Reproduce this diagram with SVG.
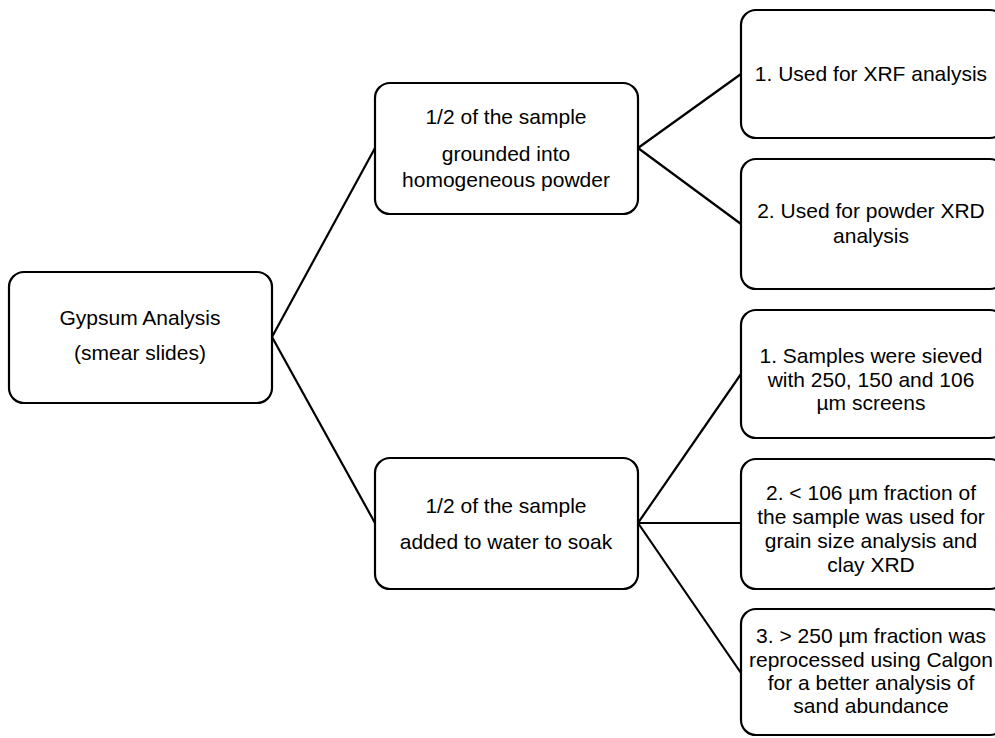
<svg xmlns="http://www.w3.org/2000/svg" width="995" height="738" viewBox="0 0 995 738">
<style>
.box{fill:#fff;stroke:#000;stroke-width:2.2}
.t{font-family:"Liberation Sans",Arial,sans-serif;font-size:21px;fill:#000;text-anchor:middle}
.c{stroke:#000;stroke-width:2.2;fill:none}
</style>
<rect width="995" height="738" fill="#fff"/>
<g id="connectors">
<line class="c" x1="272" y1="337" x2="375" y2="148"/>
<line class="c" x1="272" y1="337" x2="375" y2="523"/>
<line class="c" x1="638" y1="148" x2="741" y2="74"/>
<line class="c" x1="638" y1="148" x2="741" y2="224"/>
<line class="c" x1="638" y1="523" x2="741" y2="374"/>
<line class="c" x1="638" y1="523" x2="741" y2="523"/>
<line class="c" x1="638" y1="523" x2="741" y2="673"/>
</g>
<g id="gypsum">
<rect class="box" x="9" y="272" width="263" height="131" rx="15"/>
<text class="t" x="140" y="325">Gypsum Analysis</text>
<text class="t" x="140" y="360">(smear slides)</text>
</g>
<g id="half-ground">
<rect class="box" x="375" y="83" width="263" height="131" rx="15"/>
<text class="t" x="506" y="124">1/2 of the sample</text>
<text class="t" x="506" y="161">grounded into</text>
<text class="t" x="506" y="187">homogeneous powder</text>
</g>
<g id="half-soak">
<rect class="box" x="375" y="458" width="263" height="131" rx="15"/>
<text class="t" x="506" y="513">1/2 of the sample</text>
<text class="t" x="506" y="549">added to water to soak</text>
</g>
<g id="xrf">
<rect class="box" x="741" y="10" width="264" height="128" rx="15"/>
<text class="t" x="871" y="81">1. Used for XRF analysis</text>
</g>
<g id="xrd">
<rect class="box" x="741" y="159" width="264" height="130" rx="15"/>
<text class="t" x="871" y="218">2. Used for powder XRD</text>
<text class="t" x="871" y="243">analysis</text>
</g>
<g id="sieve">
<rect class="box" x="741" y="310" width="264" height="128" rx="15"/>
<text class="t" x="871" y="363">1. Samples were sieved</text>
<text class="t" x="871" y="387">with 250, 150 and 106</text>
<text class="t" x="871" y="410">µm screens</text>
</g>
<g id="fine">
<rect class="box" x="741" y="459" width="264" height="130" rx="15"/>
<text class="t" x="871" y="500">2. &lt; 106 µm fraction of</text>
<text class="t" x="871" y="524">the sample was used for</text>
<text class="t" x="871" y="548">grain size analysis and</text>
<text class="t" x="871" y="572">clay XRD</text>
</g>
<g id="coarse">
<rect class="box" x="741" y="609" width="264" height="126" rx="15"/>
<text class="t" x="871" y="643">3. &gt; 250 µm fraction was</text>
<text class="t" x="871" y="667">reprocessed using Calgon</text>
<text class="t" x="871" y="690">for a better analysis of</text>
<text class="t" x="871" y="713">sand abundance</text>
</g>
</svg>
